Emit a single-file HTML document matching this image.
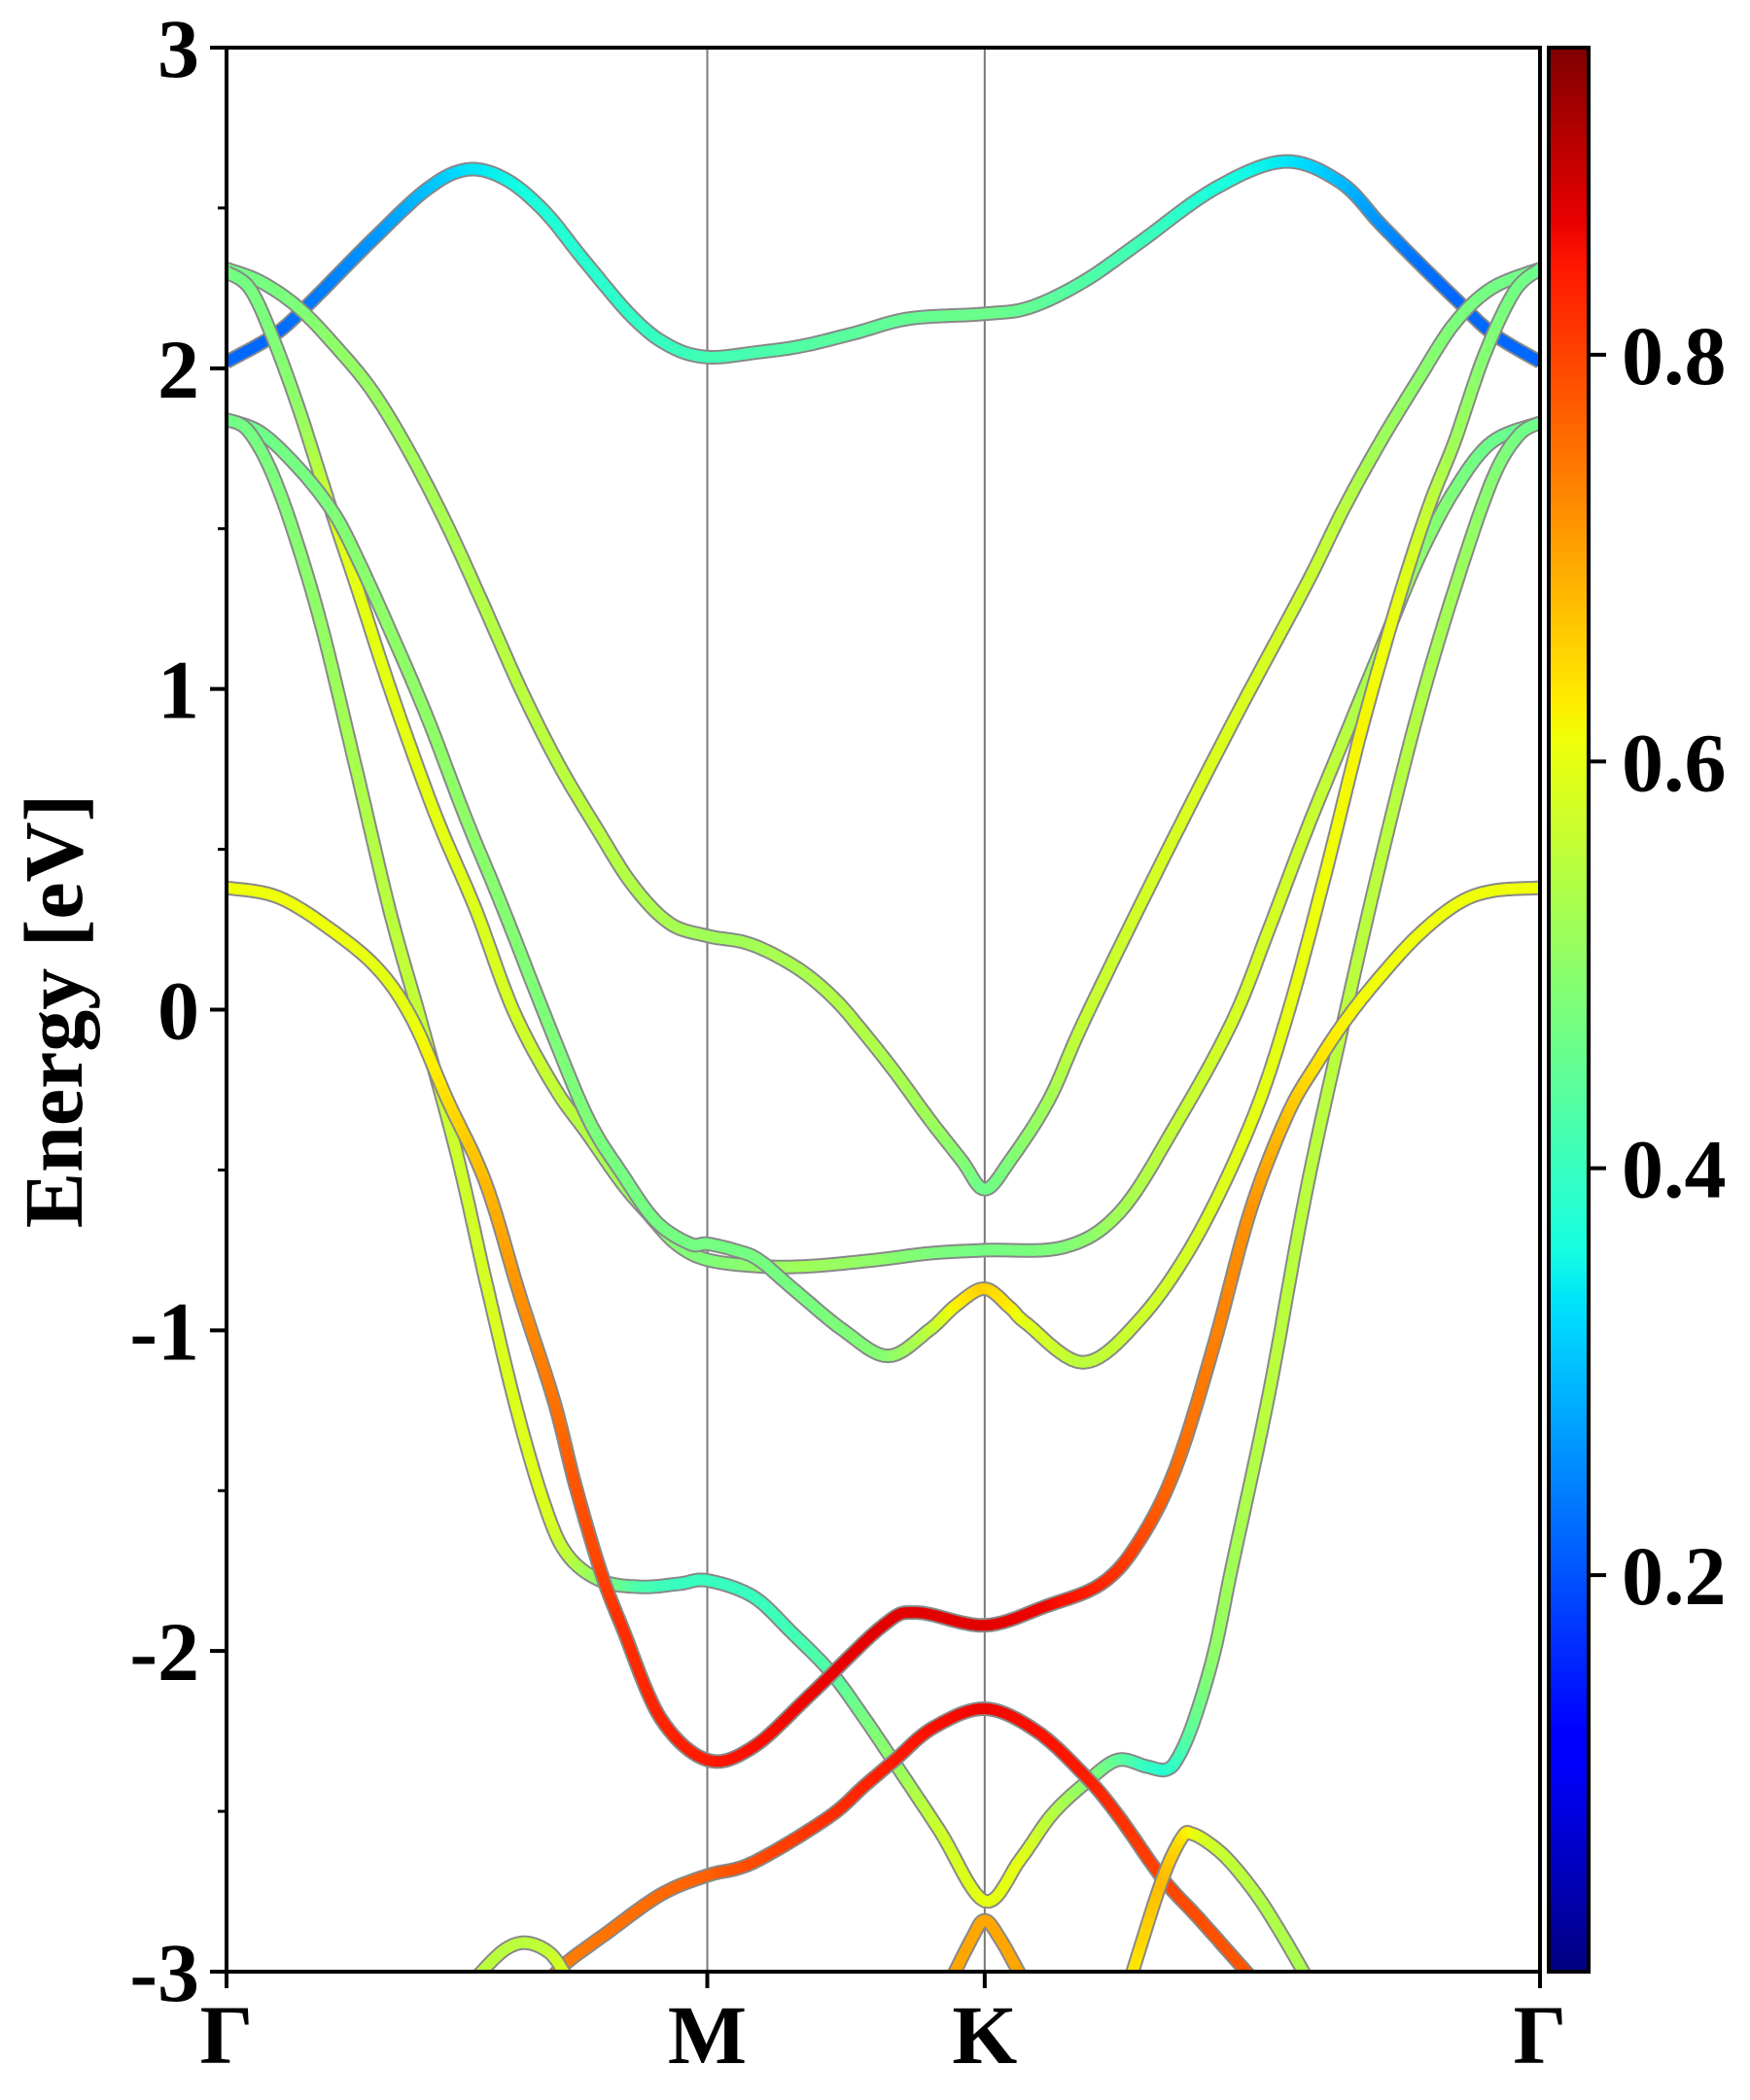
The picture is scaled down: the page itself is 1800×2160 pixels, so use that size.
<!DOCTYPE html>
<html><head><meta charset="utf-8"><style>
html,body{margin:0;padding:0;background:#fff;}
svg{display:block;}
text{font-family:"Liberation Serif","Times New Roman",Times,serif;font-weight:bold;fill:#000;}
</style></head><body>
<svg id="chart" width="1800" height="2160" viewBox="0 0 1800 2160">
<defs>
<clipPath id="plotclip"><rect x="233" y="49" width="1351" height="1979"/></clipPath>
<linearGradient id="jetgrad" x1="0" y1="1" x2="0" y2="0"></linearGradient>
</defs>
<g id="bands" clip-path="url(#plotclip)"></g>
<g id="axes"></g>
<g id="cbar"></g>
</svg>
<script>
// ---- data (k in units of |Gamma-M|; E in eV; w = projected weight) ----
const kLabels = ["Γ","M","K","Γ"];
const kTicks = [0, 1.0, 1.577, 2.732];
const yTicks = [-3,-2,-1,0,1,2,3];
const yTickLabels = ["-3","-2","-1","0","1","2","3"];
const yMinorTicks = [-2.5,-1.5,-0.5,0.5,1.5,2.5];
const cbTicks = [0.2,0.4,0.6,0.8];
const cbTickLabels = ["0.2","0.4","0.6","0.8"];
const cbMin = 0.005, cbMax = 0.951;

const bandA_k = [0,0.095,0.164,0.303,0.418,0.501,0.580,0.661,0.742,0.844,0.921,1.0,1.105,1.198,1.307,1.420,1.577,1.671,1.782,1.897,2.055,2.200,2.317,2.400,2.479,2.554,2.632,2.732];
const bandA_E = [2.02,2.10,2.19,2.40,2.56,2.62,2.59,2.49,2.34,2.16,2.07,2.035,2.05,2.07,2.11,2.155,2.17,2.19,2.27,2.39,2.56,2.645,2.58,2.45,2.33,2.22,2.11,2.02];
const bandA_w = [0.22,0.22,0.23,0.26,0.30,0.33,0.35,0.37,0.38,0.39,0.40,0.41,0.42,0.43,0.44,0.45,0.46,0.45,0.43,0.41,0.37,0.34,0.30,0.26,0.23,0.22,0.22,0.22];

const bandB_k = [0,0.071,0.149,0.226,0.303,0.380,0.459,0.535,0.612,0.689,0.768,0.844,0.921,1.0,1.077,1.141,1.206,1.267,1.319,1.388,1.461,1.529,1.577,1.630,1.711,1.782,1.935,2.091,2.244,2.323,2.400,2.477,2.554,2.632,2.732];
const bandB_E = [2.31,2.27,2.19,2.07,1.93,1.74,1.51,1.26,1.00,0.77,0.57,0.39,0.27,0.23,0.21,0.17,0.11,0.03,-0.06,-0.19,-0.34,-0.47,-0.56,-0.47,-0.28,-0.04,0.43,0.89,1.32,1.56,1.77,1.96,2.14,2.25,2.31];
const bandB_w = [0.47,0.47,0.48,0.50,0.51,0.52,0.53,0.54,0.55,0.55,0.55,0.54,0.53,0.52,0.52,0.53,0.53,0.54,0.54,0.53,0.52,0.49,0.46,0.48,0.52,0.56,0.58,0.59,0.57,0.55,0.52,0.50,0.48,0.47,0.46];

const bandC_k = [0,0.048,0.095,0.149,0.196,0.226,0.273,0.327,0.380,0.442,0.519,0.596,0.681,0.752,0.822,0.879,0.935,1.0,1.107,1.212,1.354,1.461,1.577,1.743,1.859,1.974,2.091,2.168,2.244,2.323,2.400,2.477,2.554,2.632,2.732];
const bandC_E = [2.30,2.25,2.10,1.88,1.66,1.52,1.31,1.06,0.83,0.58,0.31,0.0,-0.24,-0.39,-0.54,-0.64,-0.73,-0.78,-0.80,-0.80,-0.78,-0.76,-0.75,-0.74,-0.63,-0.36,-0.04,0.25,0.55,0.84,1.12,1.40,1.62,1.77,1.83];
const bandC_w = [0.47,0.47,0.48,0.50,0.55,0.58,0.60,0.60,0.60,0.60,0.59,0.58,0.56,0.54,0.52,0.50,0.49,0.48,0.50,0.52,0.50,0.48,0.47,0.48,0.52,0.56,0.58,0.58,0.57,0.55,0.52,0.50,0.48,0.46,0.45];

const bandD_k = [0,0.071,0.149,0.218,0.265,0.341,0.418,0.497,0.574,0.667,0.752,0.822,0.893,0.964,1.0,1.057,1.107,1.178,1.283,1.376,1.461,1.519,1.577,1.630,1.665,1.782,1.897,2.014,2.129,2.206,2.285,2.362,2.438,2.501,2.554,2.616,2.679,2.732];
const bandD_E = [1.84,1.80,1.69,1.56,1.43,1.18,0.91,0.60,0.32,-0.035,-0.34,-0.51,-0.66,-0.73,-0.73,-0.75,-0.78,-0.87,-1.0,-1.08,-1.0,-0.92,-0.87,-0.93,-0.98,-1.10,-0.97,-0.72,-0.36,-0.02,0.42,0.88,1.28,1.57,1.77,2.04,2.24,2.31];
const bandD_w = [0.45,0.46,0.47,0.48,0.49,0.50,0.50,0.50,0.49,0.48,0.48,0.47,0.47,0.47,0.47,0.47,0.47,0.47,0.48,0.49,0.55,0.62,0.66,0.63,0.60,0.55,0.57,0.58,0.60,0.60,0.61,0.62,0.60,0.56,0.52,0.49,0.47,0.46];

const bandE_k = [0,0.048,0.109,0.188,0.265,0.341,0.404,0.479,0.539,0.604,0.663,0.709,0.778,0.863,0.943,1.0,1.095,1.174,1.259,1.327,1.390,1.483,1.577,1.651,1.717,1.788,1.853,1.913,1.954,1.980,2.014,2.055,2.091,2.168,2.244,2.323,2.400,2.477,2.554,2.632,2.687,2.732];
const bandE_E = [1.84,1.80,1.62,1.25,0.78,0.30,-0.035,-0.45,-0.845,-1.25,-1.55,-1.70,-1.78,-1.80,-1.79,-1.78,-1.83,-1.94,-2.07,-2.21,-2.35,-2.56,-2.78,-2.65,-2.51,-2.41,-2.34,-2.36,-2.37,-2.33,-2.21,-2.0,-1.74,-1.20,-0.58,-0.04,0.46,0.92,1.31,1.65,1.79,1.83];
const bandE_w = [0.46,0.47,0.48,0.50,0.53,0.55,0.56,0.57,0.58,0.59,0.59,0.56,0.50,0.42,0.40,0.40,0.40,0.41,0.43,0.47,0.50,0.57,0.60,0.60,0.55,0.50,0.45,0.40,0.38,0.40,0.45,0.50,0.52,0.55,0.55,0.55,0.55,0.54,0.52,0.49,0.47,0.46];

const bandF_k = [0,0.109,0.226,0.319,0.388,0.459,0.539,0.610,0.681,0.725,0.778,0.824,0.903,1.0,1.095,1.212,1.366,1.436,1.577,1.705,1.820,1.897,1.974,2.053,2.129,2.206,2.267,2.329,2.398,2.477,2.560,2.632,2.732];
const bandF_E = [0.38,0.35,0.24,0.12,-0.035,-0.28,-0.54,-0.89,-1.22,-1.48,-1.75,-1.93,-2.21,-2.34,-2.30,-2.14,-1.92,-1.88,-1.92,-1.86,-1.79,-1.66,-1.43,-1.05,-0.63,-0.33,-0.17,-0.03,0.10,0.23,0.33,0.37,0.38];
const bandF_w = [0.61,0.61,0.61,0.60,0.60,0.64,0.68,0.72,0.75,0.78,0.80,0.82,0.83,0.84,0.85,0.86,0.87,0.87,0.87,0.86,0.83,0.80,0.76,0.74,0.72,0.67,0.64,0.62,0.61,0.61,0.61,0.61,0.61];

const bandG_k = [0.661,0.701,0.786,0.903,1.0,1.095,1.251,1.327,1.390,1.469,1.577,1.685,1.786,1.853,1.947,2.020,2.115,2.145];
const bandG_E = [-3.05,-2.98,-2.885,-2.76,-2.70,-2.66,-2.52,-2.42,-2.34,-2.24,-2.18,-2.25,-2.39,-2.51,-2.71,-2.83,-2.99,-3.04];
const bandG_w = [0.74,0.74,0.75,0.76,0.77,0.79,0.82,0.83,0.84,0.85,0.86,0.85,0.84,0.82,0.80,0.79,0.78,0.78];

const bandH_k = [0.499,0.531,0.580,0.624,0.671,0.701,0.721];
const bandH_E = [-3.06,-3.0,-2.93,-2.91,-2.94,-3.0,-3.06];
const bandH_w = [0.55,0.55,0.55,0.55,0.56,0.58,0.6];

const bandI_k = [1.499,1.549,1.577,1.610,1.655,1.671];
const bandI_E = [-3.05,-2.90,-2.84,-2.90,-3.02,-3.05];
const bandI_w = [0.70,0.70,0.70,0.70,0.70,0.70];

const bandJ_k = [1.877,1.887,1.947,1.988,2.008,2.044,2.089,2.156,2.236,2.246];
const bandJ_E = [-3.05,-2.99,-2.71,-2.58,-2.57,-2.60,-2.66,-2.79,-2.99,-3.03];
const bandJ_w = [0.62,0.63,0.68,0.64,0.62,0.58,0.56,0.54,0.53,0.53];

// ---- layout ----
const NS = "http://www.w3.org/2000/svg";
const FONT = '"Liberation Serif","Times New Roman",Times,serif';
const PX0 = 233, PX1 = 1584, PY0 = 49, PY1 = 2028;
const kMax = 2.732, eMin = -3, eMax = 3;
function xs(k){ return PX0 + k / kMax * (PX1 - PX0); }
function ys(e){ return PY0 + (eMax - e) / (eMax - eMin) * (PY1 - PY0); }
function cbY(v){ return PY1 - (v - cbMin) / (cbMax - cbMin) * (PY1 - PY0); }

function interp(pts, t){
  for (let i = 0; i < pts.length - 1; i++){
    if (t <= pts[i+1][0]){ const f = (t - pts[i][0]) / (pts[i+1][0] - pts[i][0]); return pts[i][1] + f * (pts[i+1][1] - pts[i][1]); }
  }
  return pts[pts.length-1][1];
}
const jr = [[0,0],[0.35,0],[0.66,1],[0.89,1],[1,0.5]];
const jg = [[0,0],[0.125,0],[0.375,1],[0.64,1],[0.91,0],[1,0]];
const jb = [[0,0.5],[0.11,1],[0.34,1],[0.65,0],[1,0]];
function jet(t){
  t = Math.max(0, Math.min(1, t));
  const r = Math.round(255*interp(jr,t)), g = Math.round(255*interp(jg,t)), b = Math.round(255*interp(jb,t));
  return "rgb(" + r + "," + g + "," + b + ")";
}
function wColor(w){ return jet((w - cbMin) / (cbMax - cbMin)); }

function mk(tag, attrs, parent){
  const el = document.createElementNS(NS, tag);
  for (const a in attrs) el.setAttribute(a, attrs[a]);
  parent.appendChild(el);
  return el;
}

// Catmull-Rom sample through points
function sampleBand(ks, es, ws){
  const P = ks.map((k,i) => [xs(k), ys(es[i]), ws[i]]);
  const out = [];
  const N = 10;
  for (let i = 0; i < P.length - 1; i++){
    const p0 = P[Math.max(0,i-1)], p1 = P[i], p2 = P[i+1], p3 = P[Math.min(P.length-1,i+2)];
    for (let j = 0; j < N; j++){
      const t = j / N, t2 = t*t, t3 = t2*t;
      const x = 0.5*((2*p1[0]) + (-p0[0]+p2[0])*t + (2*p0[0]-5*p1[0]+4*p2[0]-p3[0])*t2 + (-p0[0]+3*p1[0]-3*p2[0]+p3[0])*t3);
      const y = 0.5*((2*p1[1]) + (-p0[1]+p2[1])*t + (2*p0[1]-5*p1[1]+4*p2[1]-p3[1])*t2 + (-p0[1]+3*p1[1]-3*p2[1]+p3[1])*t3);
      const w = p1[2] + (p2[2]-p1[2])*t;
      out.push([x,y,w]);
    }
  }
  const L = P[P.length-1]; out.push([L[0],L[1],L[2]]);
  return out;
}

const bandsG = document.getElementById("bands");
const bandList = [
  ["band-a", bandA_k, bandA_E, bandA_w],
  ["band-b", bandB_k, bandB_E, bandB_w],
  ["band-c", bandC_k, bandC_E, bandC_w],
  ["band-d", bandD_k, bandD_E, bandD_w],
  ["band-e", bandE_k, bandE_E, bandE_w],
  ["band-f", bandF_k, bandF_E, bandF_w],
  ["band-g", bandG_k, bandG_E, bandG_w],
  ["band-h", bandH_k, bandH_E, bandH_w],
  ["band-i", bandI_k, bandI_E, bandI_w],
  ["band-j", bandJ_k, bandJ_E, bandJ_w]
];

[1,2].forEach(i => {
  const ln = mk("line", {x1: xs(kTicks[i]), x2: xs(kTicks[i]), y1: PY0, y2: PY1, stroke: "#7a7a7a", "stroke-width": 2}, bandsG);
  
  
});

bandList.forEach(b => {
  const pts = sampleBand(b[1], b[2], b[3]);
  const g = mk("g", {}, bandsG);
  
  
  const d = pts.map((p,i) => (i ? "L" : "M") + p[0].toFixed(1) + " " + p[1].toFixed(1)).join(" ");
  const outline = mk("path", {d: d, fill: "none", stroke: "#888", "stroke-width": 15, "stroke-linejoin": "round", "stroke-linecap": "butt"}, g);
  
  
  for (let i = 0; i < pts.length - 1; i++){
    const seg = mk("line", {x1: pts[i][0].toFixed(1), y1: pts[i][1].toFixed(1), x2: pts[i+1][0].toFixed(1), y2: pts[i+1][1].toFixed(1), stroke: wColor((pts[i][2]+pts[i+1][2])/2), "stroke-width": 11, "stroke-linecap": "round"}, g);
    
    
  }
});

// ---- axes ----
const ax = document.getElementById("axes");
const frame = mk("rect", {x: PX0, y: PY0, width: PX1-PX0, height: PY1-PY0, fill: "none", stroke: "#000", "stroke-width": 4}, ax);


yTicks.forEach((v,i) => {
  const t = mk("line", {x1: PX0-17, x2: PX0, y1: ys(v), y2: ys(v), stroke: "#000", "stroke-width": 4}, ax);
  
  
  const lb = mk("text", {x: 205, y: ys(v)+30, "text-anchor": "end", "font-size": 86, "font-family": FONT, "font-weight": "bold"}, ax);
  lb.textContent = yTickLabels[i];
  
  
});
yMinorTicks.forEach(v => {
  const t = mk("line", {x1: PX0-9, x2: PX0, y1: ys(v), y2: ys(v), stroke: "#000", "stroke-width": 3}, ax);
  
  
});
kTicks.forEach((k,i) => {
  const t = mk("line", {x1: xs(k), x2: xs(k), y1: PY1, y2: PY1+17, stroke: "#000", "stroke-width": 4}, ax);
  
  
  const lb = mk("text", {x: xs(k), y: 2122, "text-anchor": "middle", "font-size": 86, "font-family": FONT, "font-weight": "bold"}, ax);
  lb.textContent = kLabels[i];
  
  
});
const yt = mk("text", {x: 0, y: 0, "text-anchor": "middle", "font-size": 86, "font-family": FONT, "font-weight": "bold", transform: "translate(84,1040) rotate(-90)"}, ax);
yt.textContent = "Energy [eV]";



// ---- colorbar ----
const grad = document.getElementById("jetgrad");
[0,0.11,0.125,0.34,0.35,0.375,0.5,0.64,0.65,0.66,0.89,0.91,1].forEach(t => {
  mk("stop", {offset: t, "stop-color": jet(t)}, grad);
});
const cb = document.getElementById("cbar");
const cbr = mk("rect", {x: 1593, y: PY0, width: 41, height: PY1-PY0, fill: "url(#jetgrad)", stroke: "#000", "stroke-width": 4}, cb);


cbTicks.forEach((v,i) => {
  const t = mk("line", {x1: 1634, x2: 1652, y1: cbY(v), y2: cbY(v), stroke: "#000", "stroke-width": 4}, cb);
  
  
  const lb = mk("text", {x: 1668, y: cbY(v)+30, "text-anchor": "start", "font-size": 86, "font-family": FONT, "font-weight": "bold"}, cb);
  lb.textContent = cbTickLabels[i];
  
  
});
</script>
</body></html>
